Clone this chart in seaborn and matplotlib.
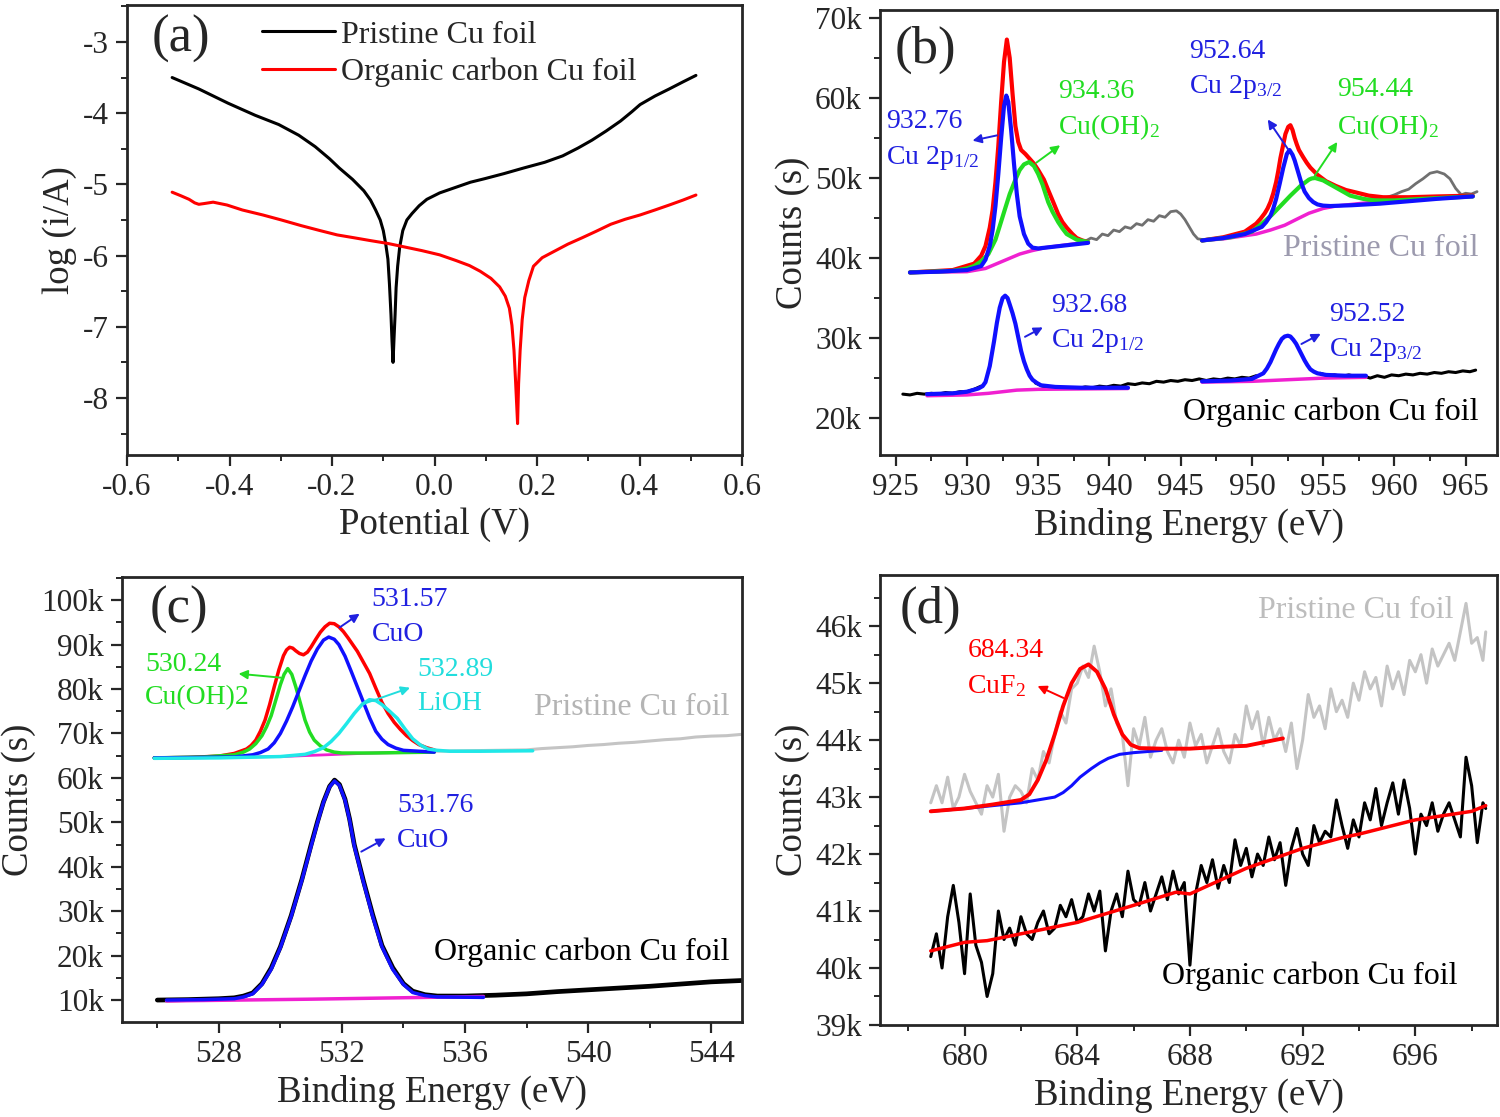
import numpy as np
import seaborn as sns
import matplotlib.pyplot as plt
from matplotlib.ticker import MultipleLocator, FixedLocator

# ---------------- data ----------------
# (a) Tafel curves
pot_pristine = [-0.512, -0.46, -0.403, -0.35, -0.304, -0.265, -0.233, -0.205, -0.186, -0.160,
                -0.138, -0.125, -0.115, -0.106, -0.100, -0.095, -0.091, -0.088, -0.085, -0.083,
                -0.081, -0.079, -0.077, -0.075, -0.072, -0.068, -0.062, -0.054, -0.044, -0.030,
                -0.015, 0.010, 0.042, 0.070, 0.098, 0.135, 0.174, 0.215, 0.250, 0.280,
                0.307, 0.335, 0.363, 0.385, 0.401, 0.430, 0.458, 0.485, 0.510]
logi_pristine = [-3.50, -3.66, -3.86, -4.03, -4.16, -4.31, -4.47, -4.64, -4.77, -4.93,
                 -5.09, -5.22, -5.36, -5.50, -5.65, -5.85, -6.05, -6.40, -6.83, -7.20,
                 -7.50, -7.15, -6.83, -6.45, -6.15, -5.88, -5.65, -5.50, -5.41, -5.30,
                 -5.21, -5.12, -5.04, -4.97, -4.92, -4.85, -4.77, -4.69, -4.60, -4.49,
                 -4.38, -4.25, -4.11, -3.98, -3.88, -3.76, -3.66, -3.56, -3.47]
pot_organic = [-0.512, -0.495, -0.479, -0.468, -0.460, -0.450, -0.432, -0.405, -0.375, -0.335,
               -0.299, -0.260, -0.223, -0.190, -0.157, -0.125, -0.091, -0.058, -0.025, 0.010,
               0.042, 0.068, 0.089, 0.110, 0.127, 0.138, 0.146, 0.151, 0.155, 0.158,
               0.162, 0.164, 0.167, 0.171, 0.176, 0.184, 0.193, 0.210, 0.231, 0.260,
               0.288, 0.315, 0.344, 0.372, 0.401, 0.430, 0.458, 0.485, 0.510]
logi_organic = [-5.11, -5.16, -5.21, -5.26, -5.28, -5.27, -5.25, -5.29, -5.36, -5.43,
                -5.50, -5.58, -5.65, -5.71, -5.75, -5.79, -5.83, -5.88, -5.93, -5.99,
                -6.07, -6.14, -6.22, -6.32, -6.44, -6.57, -6.74, -6.98, -7.33, -7.75,
                -8.36, -7.80, -7.33, -6.90, -6.59, -6.35, -6.15, -6.03, -5.95, -5.84,
                -5.75, -5.66, -5.56, -5.49, -5.43, -5.36, -5.29, -5.22, -5.15]

# (b) Cu 2p, pristine (upper) spectrum, counts in k
b_gray_x1 = [938.3, 938.7, 939.1, 939.5, 939.9, 940.3, 940.7, 941.1, 941.5, 941.9, 942.3, 942.7,
             943.1, 943.5, 943.9, 944.3, 944.7, 945.0, 945.3, 945.6, 945.9, 946.2, 946.6]
b_gray_y1 = [42.1, 42.5, 42.3, 43.0, 42.8, 43.5, 43.3, 43.9, 43.7, 44.3, 44.1, 44.8,
             44.6, 45.3, 45.1, 45.8, 45.9, 45.5, 44.8, 43.9, 43.0, 42.4, 42.3]
b_gray_x2 = [957.5, 958.0, 958.5, 959.0, 959.5, 960.0, 960.5, 961.0, 961.5, 962.0, 962.5, 963.0,
             963.5, 963.9, 964.3, 964.7, 965.0, 965.4, 965.8]
b_gray_y2 = [47.6, 47.3, 47.5, 47.3, 47.6, 47.9, 48.3, 48.6, 49.3, 49.9, 50.6, 50.8,
             50.5, 49.9, 48.7, 47.9, 48.1, 48.0, 48.3]

b_bg1_x = [926.0, 930.0, 931.3, 932.1, 932.9, 933.7, 934.5, 935.5, 937.2, 938.5]
b_bg1_y = [38.2, 38.3, 38.7, 39.3, 39.9, 40.5, 40.9, 41.3, 41.7, 42.0]
b_cu1_x = [926.0, 928.0, 930.0, 931.0, 931.3, 931.6, 931.8, 932.0, 932.2, 932.4, 932.6, 932.76,
           932.9, 933.1, 933.3, 933.5, 933.7, 934.0, 934.3, 934.6, 935.0, 936.0, 937.0, 938.5]
b_cu1_y = [38.2, 38.3, 38.5, 39.0, 39.8, 41.5, 43.5, 46.5, 50.5, 55.0, 59.0, 60.3,
           59.5, 56.0, 51.8, 48.0, 45.2, 43.0, 41.8, 41.3, 41.2, 41.4, 41.6, 41.9]
b_oh1_x = [926.0, 929.0, 930.0, 930.5, 931.0, 931.5, 932.0, 932.3, 932.7, 933.0, 933.4, 933.7,
           934.0, 934.36, 934.7, 935.0, 935.3, 935.7, 936.0, 936.4, 936.7, 937.0, 937.4, 937.7,
           938.5]
b_oh1_y = [38.2, 38.4, 38.7, 39.0, 39.6, 40.5, 42.3, 44.0, 46.3, 48.0, 49.8, 51.0,
           51.7, 52.0, 51.5, 50.5, 49.2, 47.0, 45.8, 44.5, 43.7, 43.0, 42.6, 42.3,
           42.0]
b_sum1_x = [926.0, 929.0, 930.5, 931.0, 931.3, 931.6, 931.8, 932.0, 932.2, 932.4, 932.6, 932.8,
            933.0, 933.2, 933.4, 933.6, 933.8, 934.1, 934.4, 934.7, 935.0, 935.4, 935.7, 936.1,
            936.4, 936.7, 937.0, 937.4, 937.7, 938.1, 938.5]
b_sum1_y = [38.2, 38.5, 39.3, 40.3, 41.5, 43.8, 46.0, 49.5, 54.0, 59.5, 64.5, 67.3,
            65.0, 60.5, 56.5, 54.5, 53.5, 53.0, 52.4, 51.8, 51.0, 49.8, 48.5, 46.8,
            45.5, 44.5, 43.8, 43.0, 42.5, 42.2, 42.0]

b_bg2_x = [946.5, 948.0, 950.3, 951.3, 952.3, 953.2, 954.0, 955.0, 955.9, 958.6, 961.9, 965.5]
b_bg2_y = [42.2, 42.4, 43.0, 43.5, 44.1, 44.9, 45.6, 46.2, 46.5, 47.0, 47.4, 47.7]
b_cu2_x = [946.5, 948.0, 949.5, 950.7, 951.0, 951.3, 951.5, 951.7, 951.95, 952.2, 952.45, 952.64,
           952.85, 953.0, 953.15, 953.3, 953.5, 953.7, 954.0, 954.3, 954.6, 955.0, 955.5, 957.0,
           959.0, 961.0, 963.0, 965.5]
b_cu2_y = [42.2, 42.5, 43.0, 43.9, 44.5, 45.3, 46.2, 47.4, 49.3, 51.3, 53.0, 53.5,
           52.9, 52.2, 51.3, 50.4, 49.2, 48.3, 47.5, 47.0, 46.7, 46.55, 46.5, 46.6,
           46.8, 47.1, 47.4, 47.7]
b_oh2_x = [946.5, 948.5, 950.0, 950.7, 951.4, 952.0, 952.7, 953.4, 954.0, 954.2, 954.44, 955.0,
           955.6, 956.3, 956.9, 957.8, 958.6, 960.0, 962.0, 965.5]
b_oh2_y = [42.2, 42.6, 43.3, 44.3, 45.4, 46.5, 47.8, 49.0, 49.8, 49.95, 50.0, 49.7,
           49.1, 48.4, 47.8, 47.4, 47.2, 47.2, 47.4, 47.7]
b_sum2_x = [946.5, 948.0, 949.5, 950.3, 950.6, 950.9, 951.1, 951.3, 951.5, 951.7, 951.85, 952.0,
            952.2, 952.35, 952.55, 952.7, 952.85, 953.0, 953.15, 953.3, 953.6, 953.85, 954.1, 954.6,
            955.2, 955.9, 956.6, 957.3, 958.2, 959.2, 961.0, 963.0, 965.5]
b_sum2_y = [42.2, 42.6, 43.3, 44.3, 44.9, 45.6, 46.2, 47.0, 48.1, 49.5, 50.9, 52.5,
            54.2, 55.5, 56.4, 56.6, 56.0, 55.0, 54.2, 53.5, 52.6, 51.9, 51.3, 50.4,
            49.6, 49.0, 48.5, 48.2, 47.8, 47.6, 47.6, 47.7, 47.8]

# (b) organic carbon (lower) spectrum
b_blk_x1 = [925.5, 926.0, 926.5, 927.0, 927.5, 928.0, 928.5, 929.0, 929.5, 930.0, 930.5, 931.0]
b_blk_y1 = [23.0, 22.9, 23.1, 23.0, 23.1, 23.0, 23.2, 23.1, 23.3, 23.3, 23.6, 24.0]
b_blk_x2 = [934.8, 935.3, 935.8, 936.3, 936.8, 937.3, 937.8, 938.3, 938.8, 939.3, 939.8, 940.3,
            940.8, 941.3, 941.8, 942.3, 942.8, 943.3, 943.8, 944.3, 944.8, 945.3, 945.8, 946.3,
            946.8, 947.3, 947.8, 948.3, 948.8, 949.3, 949.8, 950.3]
b_blk_y2 = [24.4, 24.0, 23.8, 23.9, 23.7, 23.8, 23.7, 23.9, 23.8, 24.0, 23.9, 24.1,
            24.0, 24.3, 24.2, 24.4, 24.3, 24.6, 24.5, 24.7, 24.6, 24.8, 24.7, 24.9,
            24.7, 24.9, 24.8, 25.0, 24.9, 25.1, 25.0, 25.3]
b_blk_x3 = [954.8, 955.3, 955.8, 956.3, 956.8, 957.3, 957.8, 958.3, 958.8, 959.3, 959.8, 960.3,
            960.8, 961.3, 961.8, 962.3, 962.8, 963.3, 963.8, 964.3, 964.8, 965.3, 965.7]
b_blk_y3 = [25.6, 25.3, 25.4, 25.2, 25.4, 25.2, 25.3, 25.0, 25.3, 25.1, 25.4, 25.3,
            25.5, 25.4, 25.6, 25.5, 25.7, 25.6, 25.8, 25.7, 25.9, 25.8, 26.0]
b_cu3_x = [927.2, 929.0, 930.0, 930.8, 931.1, 931.3, 931.6, 931.9, 932.1, 932.3, 932.5, 932.68,
           932.85, 933.0, 933.2, 933.4, 933.6, 933.8, 934.0, 934.2, 934.4, 934.6, 934.9, 935.2,
           936.2, 938.0, 941.3]
b_cu3_y = [23.0, 23.1, 23.3, 23.7, 24.0, 24.5, 26.5, 29.6, 31.9, 33.8, 35.0, 35.3,
           35.0, 34.2, 33.1, 31.8, 30.1, 28.4, 27.1, 26.1, 25.3, 24.8, 24.4, 24.1,
           23.9, 23.8, 23.8]
b_bg3_x = [927.2, 930.0, 931.5, 932.5, 933.5, 935.0, 941.3]
b_bg3_y = [22.8, 22.9, 23.1, 23.3, 23.5, 23.6, 23.7]
b_cu4_x = [946.5, 948.5, 950.0, 950.8, 951.05, 951.3, 951.5, 951.7, 951.9, 952.1, 952.3, 952.52,
           952.7, 952.9, 953.1, 953.3, 953.5, 953.7, 953.9, 954.1, 954.35, 954.6, 955.2, 956.5,
           958.0]
b_cu4_y = [24.6, 24.7, 24.9, 25.6, 26.2, 27.0, 27.8, 28.6, 29.3, 29.9, 30.2, 30.3,
           30.2, 29.8, 29.3, 28.6, 27.9, 27.2, 26.6, 26.1, 25.8, 25.6, 25.4, 25.3,
           25.3]
b_bg4_x = [946.5, 950.0, 952.5, 955.0, 958.0]
b_bg4_y = [24.5, 24.6, 24.8, 25.0, 25.1]

# (c) O 1s
c_gray_x = [535.0, 536.0, 537.0, 538.0, 538.5, 539.0, 539.5, 540.0, 540.5, 541.0, 541.5, 542.0,
            542.5, 543.0, 543.5, 544.0, 544.5, 545.0]
c_gray_y = [66.0, 66.1, 66.2, 66.3, 66.6, 66.8, 67.0, 67.3, 67.5, 67.8, 68.0, 68.3,
            68.6, 68.8, 69.2, 69.4, 69.5, 69.8]
c_sum_x = [525.9, 527.0, 528.0, 528.5, 528.9, 529.05, 529.2, 529.35, 529.5, 529.65, 529.8, 529.95,
           530.1, 530.2, 530.3, 530.4, 530.5, 530.62, 530.75, 530.88, 531.0, 531.15, 531.3, 531.45,
           531.6, 531.75, 531.9, 532.05, 532.2, 532.35, 532.5, 532.7, 532.9, 533.1, 533.3, 533.5,
           533.7, 533.9, 534.1, 534.3, 534.5, 534.75, 535.0]
c_sum_y = [64.5, 64.6, 64.9, 65.5, 66.5, 67.3, 68.5, 70.5, 73.0, 76.5, 80.5, 84.3,
           87.5, 88.8, 89.4, 89.2, 88.6, 88.0, 87.7, 88.3, 89.5, 91.2, 92.8, 94.0,
           94.8, 94.7, 94.0, 92.9, 91.5, 90.0, 88.5, 86.0, 83.5, 80.2, 77.0, 74.5,
           72.5, 70.9, 69.5, 68.4, 67.5, 66.8, 66.3]
c_oh_x = [525.9, 527.5, 528.5, 528.8, 529.0, 529.2, 529.4, 529.55, 529.7, 529.85, 530.0, 530.12,
          530.24, 530.37, 530.5, 530.65, 530.8, 530.95, 531.1, 531.3, 531.5, 531.75, 532.0, 533.0,
          534.0, 535.0]
c_oh_y = [64.5, 64.7, 65.2, 65.8, 66.5, 67.7, 69.5, 71.5, 74.0, 77.5, 81.0, 83.3,
          84.6, 83.3, 80.5, 76.8, 73.0, 70.3, 68.5, 67.2, 66.3, 65.8, 65.6, 65.6,
          65.7, 65.8]
c_cuo_x = [525.9, 528.5, 529.1, 529.35, 529.6, 529.8, 530.0, 530.2, 530.4, 530.6, 530.8, 531.0,
           531.2, 531.4, 531.57, 531.75, 531.9, 532.1, 532.3, 532.5, 532.7, 532.9, 533.1, 533.3,
           533.5, 533.75, 534.0, 535.0]
c_cuo_y = [64.5, 64.7, 65.2, 65.7, 66.5, 67.9, 70.0, 72.8, 76.0, 79.5, 83.0, 86.3,
           89.0, 91.0, 91.7, 91.2, 90.0, 87.4, 84.0, 80.5, 77.0, 73.5, 70.5, 68.7,
           67.5, 66.7, 66.2, 65.8]
c_lioh_x = [525.9, 528.0, 530.0, 530.8, 531.1, 531.4, 531.65, 531.9, 532.15, 532.4, 532.65, 532.89,
            533.1, 533.3, 533.55, 533.8, 534.05, 534.3, 534.55, 534.8, 535.1, 535.5, 536.5, 538.2]
c_lioh_y = [64.4, 64.5, 64.8, 65.3, 65.9, 66.8, 68.2, 70.0, 72.2, 74.5, 76.5, 77.6,
            77.4, 76.5, 75.0, 73.4, 71.0, 68.8, 67.4, 66.5, 66.2, 66.0, 66.0, 66.1]
c_bg_x = [525.9, 530.0, 531.5, 533.0, 535.0]
c_bg_y = [64.5, 64.8, 65.2, 65.6, 65.8]
c_blk_x = [526.0, 527.0, 528.0, 528.5, 528.8, 529.1, 529.4, 529.7, 530.0, 530.35, 530.7, 531.0,
           531.2, 531.4, 531.6, 531.76, 531.92, 532.1, 532.25, 532.4, 532.7, 533.0, 533.3, 533.65,
           534.0, 534.3, 534.7, 535.1, 536.0, 537.0, 538.0, 539.0, 540.0, 541.0, 542.0, 543.0,
           544.0, 545.0]
c_blk_y = [10.0, 10.1, 10.3, 10.5, 10.9, 11.6, 13.7, 17.2, 22.0, 29.0, 37.2, 45.0,
           50.0, 54.6, 58.1, 59.5, 58.5, 55.2, 50.7, 45.0, 36.8, 29.2, 22.3, 17.3,
           13.7, 12.0, 11.2, 10.9, 10.9, 11.1, 11.4, 11.9, 12.3, 12.7, 13.1, 13.6,
           14.1, 14.4]
c_cuo2_x = [526.3, 527.5, 528.5, 528.8, 529.1, 529.4, 529.7, 530.0, 530.35, 530.7, 531.0, 531.2,
            531.4, 531.6, 531.76, 531.92, 532.1, 532.25, 532.4, 532.7, 533.0, 533.3, 533.65, 534.0,
            534.3, 534.7, 535.1, 536.6]
c_cuo2_y = [10.0, 10.1, 10.3, 10.7, 11.4, 13.5, 16.9, 21.8, 28.8, 37.0, 44.7, 49.8,
            54.5, 58.0, 59.3, 58.3, 55.0, 50.5, 44.7, 36.5, 28.8, 22.0, 16.9, 13.5,
            11.7, 11.0, 10.7, 10.6]
c_bg2_x = [526.3, 531.0, 536.6]
c_bg2_y = [9.8, 10.2, 10.8]

# (d) F 1s
d_x = [678.8, 679.0, 679.2, 679.4, 679.6, 679.8, 680.0, 680.2, 680.4, 680.6, 680.8, 681.0,
       681.2, 681.4, 681.6, 681.8, 682.0, 682.2, 682.4, 682.6, 682.8, 683.0, 683.2, 683.4,
       683.6, 683.8, 684.0, 684.2, 684.4, 684.6, 684.8, 685.0, 685.2, 685.4, 685.6, 685.8,
       686.0, 686.2, 686.4, 686.6, 686.8, 687.0, 687.2, 687.4, 687.6, 687.8, 688.0, 688.2,
       688.4, 688.6, 688.8, 689.0, 689.2, 689.4, 689.6, 689.8, 690.0, 690.2, 690.4, 690.6,
       690.8, 691.0, 691.2, 691.4, 691.6, 691.8, 692.0, 692.2, 692.4, 692.6, 692.8, 693.0,
       693.2, 693.4, 693.6, 693.8, 694.0, 694.2, 694.4, 694.6, 694.8, 695.0, 695.2, 695.4,
       695.6, 695.8, 696.0, 696.2, 696.4, 696.6, 696.8, 697.0, 697.2, 697.4, 697.6, 697.8,
       698.0, 698.2, 698.4, 698.5]
d_pristine = [42.9, 43.2, 42.9, 43.35, 42.8, 43.0, 43.4, 43.1, 42.9, 42.7, 43.2, 43.0,
              43.4, 42.4, 43.0, 43.2, 43.1, 42.9, 43.5, 43.3, 43.8, 43.6, 44.1, 44.5,
              44.3, 44.9, 45.0, 45.3, 45.1, 45.65, 45.2, 44.6, 44.9, 44.3, 44.1, 43.2,
              44.2, 43.9, 44.4, 43.7, 44.0, 44.2, 43.8, 43.6, 44.0, 43.7, 44.3, 43.9,
              44.1, 43.6, 43.9, 44.2, 43.8, 43.6, 44.1, 43.9, 44.6, 44.2, 44.5, 43.9,
              44.4, 44.0, 44.2, 43.8, 44.3, 43.5, 44.0, 44.8, 44.4, 44.6, 44.2, 44.9,
              44.5, 44.7, 44.4, 45.0, 44.7, 45.2, 44.9, 45.1, 44.6, 45.3, 44.9, 45.2,
              44.8, 45.4, 45.2, 45.5, 45.0, 45.6, 45.3, 45.5, 45.7, 45.4, 45.9, 46.4,
              45.7, 45.8, 45.4, 45.9]
d_organic = [40.2, 40.6, 40.0, 40.9, 41.45, 40.8, 39.9, 41.3, 40.4, 40.1, 39.5, 39.9,
             41.0, 40.5, 40.7, 40.4, 40.9, 40.6, 40.5, 40.8, 41.0, 40.6, 40.7, 41.1,
             40.9, 41.2, 40.8, 40.9, 41.3, 41.0, 41.35, 40.3, 41.0, 41.3, 40.9, 41.7,
             41.2, 41.1, 41.5, 41.0, 41.3, 41.6, 41.2, 41.7, 41.3, 41.5, 40.05, 41.3,
             41.8, 41.5, 41.9, 41.4, 41.8, 41.5, 42.25, 41.8, 42.1, 41.6, 42.0, 41.8,
             42.3, 41.9, 42.2, 41.45, 42.1, 42.45, 42.0, 41.8, 42.5, 42.2, 42.4, 42.3,
             42.95, 42.5, 42.1, 42.6, 42.3, 42.9, 42.6, 43.15, 42.5, 42.9, 43.25, 42.7,
             43.3, 42.8, 42.0, 42.7, 42.5, 42.9, 42.4, 42.7, 42.9, 42.6, 42.3, 43.7,
             43.2, 42.2, 42.9, 42.8]
d_fit_x = [678.8, 680.0, 681.0, 682.0, 682.3, 682.6, 682.9, 683.2, 683.5, 683.8, 684.1, 684.4,
           684.7, 685.0, 685.3, 685.6, 685.9, 686.2, 687.0, 688.0, 689.0, 690.0, 691.3]
d_fit_y = [42.75, 42.8, 42.87, 42.95, 43.05, 43.3, 43.65, 44.1, 44.6, 45.0, 45.25, 45.33,
           45.2, 44.9, 44.45, 44.1, 43.92, 43.86, 43.85, 43.85, 43.88, 43.9, 44.03]
d_bg_x = [678.8, 680.0, 682.0, 683.2, 683.5, 683.8, 684.1, 684.5, 684.8, 685.1, 685.5, 686.0, 687.0]
d_bg_y = [42.75, 42.8, 42.9, 43.0, 43.08, 43.2, 43.35, 43.5, 43.6, 43.68, 43.75, 43.78, 43.82]
d_fit2_x = [678.8, 680.0, 680.8, 682.0, 684.0, 686.0, 687.5, 688.0, 690.0, 692.0, 693.5, 694.0,
            696.0, 698.0, 698.5]
d_fit2_y = [40.3, 40.45, 40.48, 40.6, 40.8, 41.1, 41.33, 41.3, 41.75, 42.1, 42.3, 42.35,
            42.6, 42.75, 42.85]

# ---------------- style ----------------
sns.set_style("ticks")
plt.rcParams['font.family'] = ['Liberation Serif', 'DejaVu Serif']
plt.rcParams['mathtext.fontset'] = 'stix'
plt.rcParams['axes.unicode_minus'] = False

RED, BLUE, GREEN, MAG, CYAN = '#ff0000', '#1010ff', '#22dd22', '#f020d0', '#20e8e8'
TXT_BLUE, TXT_GREEN, TXT_CYAN = '#2020e0', '#22dd22', '#22dddd'
TICK_FS, LAB_FS, ANN_FS, PANEL_FS = 22.5, 26.5, 20, 38

fig = plt.figure(figsize=(15, 11.17), dpi=100)
ax_a = fig.add_axes([0.0847, 0.5927, 0.410, 0.4029])
ax_b = fig.add_axes([0.5867, 0.5927, 0.4113, 0.3984])
ax_c = fig.add_axes([0.0813, 0.0850, 0.4133, 0.3984])
ax_d = fig.add_axes([0.5867, 0.0824, 0.4113, 0.4029])


def line(ax, x, y, color, lw=2.5, label=None):
    sns.lineplot(x=x, y=y, ax=ax, color=color, lw=lw, label=label,
                 estimator=None, sort=False, legend=False)


def style(ax):
    for s in ax.spines.values():
        s.set_linewidth(2)
    ax.tick_params(which='major', direction='out', length=8, width=1.6,
                   labelsize=TICK_FS, pad=5)
    ax.tick_params(which='minor', direction='out', length=4.5, width=1.4)


def arrow(ax, tail, head, color):
    ax.annotate('', xy=head, xytext=tail,
                arrowprops=dict(arrowstyle='-|>', color=color, lw=1.4, mutation_scale=13))


def k_labels(ax, ticks):
    ax.yaxis.set_major_locator(FixedLocator(ticks))
    ax.set_yticklabels([f"{t:g}k" for t in ticks])


# ---------------- (a) ----------------
line(ax_a, pot_pristine, logi_pristine, 'black', lw=2.2, label='Pristine Cu foil')
line(ax_a, pot_organic, logi_organic, RED, lw=2.2, label='Organic carbon Cu foil')
ax_a.set_xlim(-0.6, 0.6)
ax_a.set_ylim(-8.8, -2.48)
ax_a.xaxis.set_major_locator(MultipleLocator(0.2))
ax_a.xaxis.set_minor_locator(MultipleLocator(0.1))
ax_a.yaxis.set_major_locator(MultipleLocator(1))
ax_a.yaxis.set_minor_locator(MultipleLocator(0.5))
ax_a.set_xticklabels([f"{v:.1f}" for v in ax_a.get_xticks()])
ax_a.set_xlabel('Potential (V)', fontsize=LAB_FS)
ax_a.set_ylabel('log (i/A)', fontsize=LAB_FS)
ax_a.legend(loc='upper left', bbox_to_anchor=(0.172, 1.03), frameon=False, fontsize=23,
            handlelength=2.3, handletextpad=0.2, labelspacing=0.25)
ax_a.text(0.04, 0.925, '(a)', transform=ax_a.transAxes, fontsize=PANEL_FS, va='center')
style(ax_a)

# ---------------- (b) ----------------
line(ax_b, b_gray_x1, b_gray_y1, '#707070', lw=2)
line(ax_b, b_gray_x2, b_gray_y2, '#707070', lw=2)
for bx, by in [(b_blk_x1, b_blk_y1), (b_blk_x2, b_blk_y2), (b_blk_x3, b_blk_y3)]:
    line(ax_b, bx, by, 'black', lw=2.2)
line(ax_b, b_bg1_x, b_bg1_y, MAG)
line(ax_b, b_sum1_x, b_sum1_y, RED, lw=3)
line(ax_b, b_oh1_x, b_oh1_y, GREEN, lw=3)
line(ax_b, b_cu1_x, b_cu1_y, BLUE, lw=3)
line(ax_b, b_bg2_x, b_bg2_y, MAG)
line(ax_b, b_sum2_x, b_sum2_y, RED, lw=3)
line(ax_b, b_oh2_x, b_oh2_y, GREEN, lw=3)
line(ax_b, b_cu2_x, b_cu2_y, BLUE, lw=3)
line(ax_b, b_bg3_x, b_bg3_y, MAG)
line(ax_b, b_cu3_x, b_cu3_y, BLUE, lw=3)
line(ax_b, b_bg4_x, b_bg4_y, MAG)
line(ax_b, b_cu4_x, b_cu4_y, BLUE, lw=3)
ax_b.set_xlim(923.9, 967.2)
ax_b.set_ylim(15.4, 71.0)
ax_b.xaxis.set_major_locator(MultipleLocator(5))
ax_b.xaxis.set_minor_locator(MultipleLocator(2.5))
k_labels(ax_b, [20, 30, 40, 50, 60, 70])
ax_b.yaxis.set_minor_locator(MultipleLocator(5))
ax_b.set_xlabel('Binding Energy (eV)', fontsize=LAB_FS)
ax_b.set_ylabel('Counts (s)', fontsize=LAB_FS)
ax_b.text(0.024, 0.91, '(b)', transform=ax_b.transAxes, fontsize=PANEL_FS, va='center')
ann_b = [(924.3, 57.0, '932.76', TXT_BLUE), (924.3, 52.5, 'Cu 2p$_\\mathregular{1/2}$', TXT_BLUE),
         (936.4, 60.75, '934.36', TXT_GREEN), (936.4, 56.4, 'Cu(OH)$_\\mathregular{2}$', TXT_GREEN),
         (945.6, 65.75, '952.64', TXT_BLUE), (945.6, 61.4, 'Cu 2p$_\\mathregular{3/2}$', TXT_BLUE),
         (956.0, 61.0, '954.44', TXT_GREEN), (956.0, 56.4, 'Cu(OH)$_\\mathregular{2}$', TXT_GREEN),
         (935.9, 34.1, '932.68', TXT_BLUE), (935.9, 29.6, 'Cu 2p$_\\mathregular{1/2}$', TXT_BLUE),
         (955.4, 32.9, '952.52', TXT_BLUE), (955.4, 28.5, 'Cu 2p$_\\mathregular{3/2}$', TXT_BLUE)]
for x, y, s, c in ann_b:
    ax_b.text(x, y, s, color=c, fontsize=ANN_FS, va='center', ha='left')
arrow(ax_b, (932.3, 55.4), (930.2, 54.6), TXT_BLUE)
arrow(ax_b, (934.7, 51.7), (936.7, 54.3), TXT_GREEN)
arrow(ax_b, (952.65, 53.3), (951.0, 57.6), TXT_BLUE)
arrow(ax_b, (954.3, 50.0), (956.1, 54.8), TXT_GREEN)
arrow(ax_b, (933.9, 30.0), (935.5, 31.5), TXT_BLUE)
arrow(ax_b, (953.3, 29.1), (955.0, 30.7), TXT_BLUE)
ax_b.text(965.9, 41.25, 'Pristine Cu foil', color='#9c9aae', fontsize=23, ha='right', va='center')
ax_b.text(965.9, 20.75, 'Organic carbon Cu foil', color='black', fontsize=23, ha='right', va='center')
style(ax_b)

# ---------------- (c) ----------------
line(ax_c, c_gray_x, c_gray_y, '#c4c4c4', lw=2.2)
line(ax_c, c_bg_x, c_bg_y, MAG, lw=2)
line(ax_c, c_sum_x, c_sum_y, RED, lw=2.5)
line(ax_c, c_oh_x, c_oh_y, GREEN, lw=2.5)
line(ax_c, c_cuo_x, c_cuo_y, BLUE, lw=2.5)
line(ax_c, c_lioh_x, c_lioh_y, CYAN, lw=2.5)
line(ax_c, c_blk_x, c_blk_y, 'black', lw=3.4)
line(ax_c, c_bg2_x, c_bg2_y, MAG, lw=2.5)
line(ax_c, c_cuo2_x, c_cuo2_y, BLUE, lw=2.5)
ax_c.set_xlim(524.85, 545.0)
ax_c.set_ylim(5.05, 105.2)
ax_c.xaxis.set_major_locator(MultipleLocator(4))
ax_c.xaxis.set_minor_locator(MultipleLocator(2))
k_labels(ax_c, [10, 20, 30, 40, 50, 60, 70, 80, 90, 100])
ax_c.yaxis.set_minor_locator(MultipleLocator(5))
ax_c.set_xlabel('Binding Energy (eV)', fontsize=LAB_FS)
ax_c.set_ylabel('Counts (s)', fontsize=LAB_FS)
ax_c.text(0.045, 0.925, '(c)', transform=ax_c.transAxes, fontsize=PANEL_FS, va='center')
ann_c = [(532.97, 100.1, '531.57', TXT_BLUE), (532.97, 92.2, 'CuO', TXT_BLUE),
         (525.6, 85.5, '530.24', TXT_GREEN), (525.6, 78.0, 'Cu(OH)2', TXT_GREEN),
         (534.46, 84.3, '532.89', TXT_CYAN), (534.46, 76.7, 'LiOH', TXT_CYAN),
         (533.8, 53.7, '531.76', TXT_BLUE), (533.8, 45.8, 'CuO', TXT_BLUE)]
for x, y, s, c in ann_c:
    ax_c.text(x, y, s, color=c, fontsize=ANN_FS, va='center', ha='left')
arrow(ax_c, (531.85, 93.5), (532.65, 97.3), TXT_BLUE)
arrow(ax_c, (530.1, 82.5), (528.55, 83.5), TXT_GREEN)
arrow(ax_c, (532.55, 76.3), (534.3, 80.5), TXT_CYAN)
arrow(ax_c, (532.55, 43.1), (533.5, 46.7), TXT_BLUE)
ax_c.text(544.6, 75.8, 'Pristine Cu foil', color='#b4b4b4', fontsize=23, ha='right', va='center')
ax_c.text(544.6, 20.8, 'Organic carbon Cu foil', color='black', fontsize=23, ha='right', va='center')
style(ax_c)

# ---------------- (d) ----------------
line(ax_d, d_x, d_pristine, '#c4c4c4', lw=2.2)
line(ax_d, d_bg_x, d_bg_y, BLUE, lw=2.2)
line(ax_d, d_fit_x, d_fit_y, RED, lw=2.8)
line(ax_d, d_x, d_organic, 'black', lw=2.2)
line(ax_d, d_fit2_x, d_fit2_y, RED, lw=2.5)
ax_d.set_xlim(677.0, 698.9)
ax_d.set_ylim(39.0, 46.9)
ax_d.xaxis.set_major_locator(MultipleLocator(4))
ax_d.xaxis.set_minor_locator(MultipleLocator(2))
k_labels(ax_d, [39, 40, 41, 42, 43, 44, 45, 46])
ax_d.yaxis.set_minor_locator(MultipleLocator(0.5))
ax_d.set_xlabel('Binding Energy (eV)', fontsize=LAB_FS)
ax_d.set_ylabel('Counts (s)', fontsize=LAB_FS)
ax_d.text(0.032, 0.922, '(d)', transform=ax_d.transAxes, fontsize=PANEL_FS, va='center')
ax_d.text(680.1, 45.57, '684.34', color=RED, fontsize=ANN_FS, va='center')
ax_d.text(680.1, 44.94, 'CuF$_\\mathregular{2}$', color=RED, fontsize=ANN_FS, va='center')
arrow(ax_d, (683.6, 44.72), (682.5, 44.97), RED)
ax_d.text(697.35, 46.28, 'Pristine Cu foil', color='#bdbdbd', fontsize=23, ha='right', va='center')
ax_d.text(697.5, 39.86, 'Organic carbon Cu foil', color='black', fontsize=23, ha='right', va='center')
style(ax_d)

fig.savefig('out.png', dpi=100)
